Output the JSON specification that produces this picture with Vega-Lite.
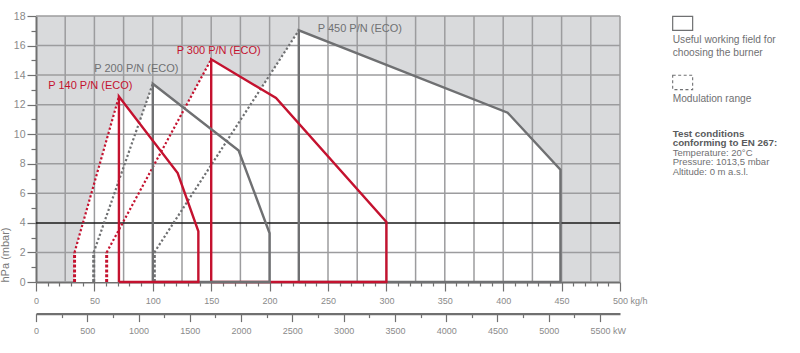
{
  "$schema": "https://vega.github.io/schema/vega-lite/v6.json",
  "autosize": "none",
  "width": 584,
  "height": 266,
  "padding": {"left": 36, "top": 16, "right": 180, "bottom": 71},
  "background": "white",
  "config": {
    "view": {"fill": "#d9dadc", "stroke": null},
    "font": "Liberation Sans",
    "text": {"font": "Liberation Sans"}
  },
  "datasets": {
    "fields": [
      {"b": "P 450", "x": 101.3, "y": 2},
      {"b": "P 450", "x": 225, "y": 17.03},
      {"b": "P 450", "x": 403.8, "y": 11.46},
      {"b": "P 450", "x": 449, "y": 7.6},
      {"b": "P 300", "x": 60.5, "y": 2},
      {"b": "P 300", "x": 150, "y": 15.07},
      {"b": "P 300", "x": 205.5, "y": 12.45},
      {"b": "P 300", "x": 300, "y": 4.06},
      {"b": "P 200", "x": 49.4, "y": 2},
      {"b": "P 200", "x": 100, "y": 13.42},
      {"b": "P 200", "x": 173.5, "y": 8.9},
      {"b": "P 200", "x": 200, "y": 3.3},
      {"b": "P 140", "x": 33, "y": 2},
      {"b": "P 140", "x": 71, "y": 12.55},
      {"b": "P 140", "x": 121.3, "y": 7.37},
      {"b": "P 140", "x": 139, "y": 3.43}
    ],
    "lines": [
      {"b": "P 450", "part": "vert", "o": 1, "x": 101.3, "y": 0},
      {"b": "P 450", "part": "vert", "o": 2, "x": 101.3, "y": 2},
      {"b": "P 450", "part": "diag", "o": 1, "x": 101.3, "y": 2},
      {"b": "P 450", "part": "diag", "o": 2, "x": 225, "y": 17.03},
      {"b": "P 450", "part": "field", "o": 1, "x": 225, "y": 0},
      {"b": "P 450", "part": "field", "o": 2, "x": 225, "y": 17.03},
      {"b": "P 450", "part": "field", "o": 3, "x": 403.8, "y": 11.46},
      {"b": "P 450", "part": "field", "o": 4, "x": 449, "y": 7.6},
      {"b": "P 450", "part": "field", "o": 5, "x": 449, "y": 0},
      {"b": "P 450", "part": "field", "o": 6, "x": 225, "y": 0},
      {"b": "P 300", "part": "vert", "o": 1, "x": 60.5, "y": 0},
      {"b": "P 300", "part": "vert", "o": 2, "x": 60.5, "y": 2},
      {"b": "P 300", "part": "diag", "o": 1, "x": 60.5, "y": 2},
      {"b": "P 300", "part": "diag", "o": 2, "x": 150, "y": 15.07},
      {"b": "P 300", "part": "field", "o": 1, "x": 150, "y": 0},
      {"b": "P 300", "part": "field", "o": 2, "x": 150, "y": 15.07},
      {"b": "P 300", "part": "field", "o": 3, "x": 205.5, "y": 12.45},
      {"b": "P 300", "part": "field", "o": 4, "x": 300, "y": 4.06},
      {"b": "P 300", "part": "field", "o": 5, "x": 300, "y": 0},
      {"b": "P 300", "part": "field", "o": 6, "x": 150, "y": 0},
      {"b": "P 200", "part": "vert", "o": 1, "x": 49.4, "y": 0},
      {"b": "P 200", "part": "vert", "o": 2, "x": 49.4, "y": 2},
      {"b": "P 200", "part": "diag", "o": 1, "x": 49.4, "y": 2},
      {"b": "P 200", "part": "diag", "o": 2, "x": 100, "y": 13.42},
      {"b": "P 200", "part": "field", "o": 1, "x": 100, "y": 0},
      {"b": "P 200", "part": "field", "o": 2, "x": 100, "y": 13.42},
      {"b": "P 200", "part": "field", "o": 3, "x": 173.5, "y": 8.9},
      {"b": "P 200", "part": "field", "o": 4, "x": 200, "y": 3.3},
      {"b": "P 200", "part": "field", "o": 5, "x": 200, "y": 0},
      {"b": "P 200", "part": "field", "o": 6, "x": 100, "y": 0},
      {"b": "P 140", "part": "vert", "o": 1, "x": 33, "y": 0},
      {"b": "P 140", "part": "vert", "o": 2, "x": 33, "y": 2},
      {"b": "P 140", "part": "diag", "o": 1, "x": 33, "y": 2},
      {"b": "P 140", "part": "diag", "o": 2, "x": 71, "y": 12.55},
      {"b": "P 140", "part": "field", "o": 1, "x": 71, "y": 0},
      {"b": "P 140", "part": "field", "o": 2, "x": 71, "y": 12.55},
      {"b": "P 140", "part": "field", "o": 3, "x": 121.3, "y": 7.37},
      {"b": "P 140", "part": "field", "o": 4, "x": 139, "y": 3.43},
      {"b": "P 140", "part": "field", "o": 5, "x": 139, "y": 0},
      {"b": "P 140", "part": "field", "o": 6, "x": 71, "y": 0}
    ],
    "labels": [
      {"b": "P 140", "t": "P 140 P/N (ECO)", "x": 10.5, "y": 13.24},
      {"b": "P 200", "t": "P 200 P/N (ECO)", "x": 49.9, "y": 14.39},
      {"b": "P 300", "t": "P 300 P/N (ECO)", "x": 120.4, "y": 15.63},
      {"b": "P 450", "t": "P 450 P/N (ECO)", "x": 241.2, "y": 17.14}
    ],
    "gx": [
      {"x": 25}, {"x": 50}, {"x": 75}, {"x": 100}, {"x": 125}, {"x": 150}, {"x": 175}, {"x": 200},
      {"x": 225}, {"x": 250}, {"x": 275}, {"x": 300}, {"x": 325}, {"x": 350}, {"x": 375}, {"x": 400},
      {"x": 425}, {"x": 450}, {"x": 475}, {"x": 500}
    ],
    "gy": [
      {"y": 2}, {"y": 6}, {"y": 8}, {"y": 10}, {"y": 12}, {"y": 14}, {"y": 16}, {"y": 18}
    ],
    "ref": [{"y": 4}],
    "legbox": [
      {"kind": "solid", "x": 545.1, "x2": 562.2, "y": 17.98, "y2": 17.03},
      {"kind": "dash", "x": 545.1, "x2": 562.2, "y": 13.99, "y2": 13.02}
    ],
    "legtext": [
      {"kind": "body", "t": "Useful working field for", "x": 545.1, "y": 16.35},
      {"kind": "body", "t": "choosing the burner", "x": 545.1, "y": 15.49},
      {"kind": "body", "t": "Modulation range", "x": 545.1, "y": 12.38},
      {"kind": "head", "t": "Test conditions", "x": 545.1, "y": 10.03},
      {"kind": "head", "t": "conforming to EN 267:", "x": 545.1, "y": 9.38},
      {"kind": "small", "t": "Temperature: 20°C", "x": 545.1, "y": 8.74},
      {"kind": "small", "t": "Pressure: 1013,5 mbar", "x": 545.1, "y": 8.1},
      {"kind": "small", "t": "Altitude: 0 m a.s.l.", "x": 545.1, "y": 7.45}
    ],
    "kw": [{"kw": 0}]
  },
  "resolve": {"scale": {"x": "independent", "y": "independent"}, "axis": {"x": "independent", "y": "independent"}},
  "layer": [
    {
      "data": {"name": "fields"},
      "mark": {"type": "area", "fill": "white", "opacity": 1},
      "encoding": {
        "x": {
          "field": "x", "type": "quantitative",
          "scale": {"domain": [0, 500], "nice": false, "zero": false},
          "axis": {
            "orient": "bottom", "title": null, "grid": false, "format": "d",
            "values": [0,10,20,30,40,50,60,70,80,90,100,110,120,130,140,150,160,170,180,190,200,210,220,230,240,250,260,270,280,290,300,310,320,330,340,350,360,370,380,390,400,410,420,430,440,450,460,470,480,490,500],
            "labelExpr": "datum.value % 50 === 0 ? (datum.value === 500 ? '500  kg/h' : datum.label) : ''",
            "labelAlign": {"condition": {"test": "datum.value === 500", "value": "left"}, "value": "center"},
            "labelOffset": {"condition": {"test": "datum.value === 500", "value": -7.5}, "value": 0},
            "tickSize": {"condition": {"test": "datum.value % 50 === 0", "value": 9}, "value": 4},
            "domainColor": "#707070", "domainWidth": 2.2,
            "tickColor": "#707070", "tickWidth": 1.2,
            "labelColor": "#8a8a8a", "labelFontSize": 9, "labelFont": "Liberation Sans",
            "labelPadding": 5, "labelFlush": false, "labelOverlap": false
          }
        },
        "y": {
          "field": "y", "type": "quantitative",
          "scale": {"domain": [0, 18], "nice": false, "zero": false},
          "axis": {
            "orient": "left",
            "title": "hPa (mbar)", "grid": false, "format": "d",
            "values": [0,1,2,3,4,5,6,7,8,9,10,11,12,13,14,15,16,17,18],
            "labelExpr": "datum.value % 2 === 0 ? datum.label : ''",
            "tickSize": {"condition": {"test": "datum.value % 2 === 0", "value": 9}, "value": 5},
            "domainColor": "#707070", "domainWidth": 2,
            "tickColor": "#707070", "tickWidth": 1.2,
            "labelColor": "#8a8a8a", "labelFontSize": 10.5, "labelFont": "Liberation Sans",
            "labelPadding": 2, "labelOverlap": false, "labelFlush": false,
            "titleFont": "Liberation Sans", "titleFontSize": 11, "titleFontWeight": "normal",
            "titleColor": "#7a7a7a", "titleAnchor": "start", "titlePadding": 3
          }
        },
        "y2": {"datum": 0},
        "detail": {"field": "b"}
      }
    },
    {
      "data": {"name": "gx"},
      "mark": {"type": "rule", "color": "#9c9c9e", "strokeWidth": 1.5},
      "encoding": {
        "x": {"field": "x", "type": "quantitative", "scale": {"domain": [0, 500], "nice": false, "zero": false}, "axis": null}
      }
    },
    {
      "data": {"name": "gy"},
      "mark": {"type": "rule", "color": "#9c9c9e", "strokeWidth": 1.5},
      "encoding": {
        "y": {"field": "y", "type": "quantitative", "scale": {"domain": [0, 18], "nice": false, "zero": false}, "axis": null}
      }
    },
    {
      "data": {"name": "ref"},
      "mark": {"type": "rule", "color": "#1a1a1a", "strokeWidth": 1.5},
      "encoding": {
        "y": {"field": "y", "type": "quantitative", "scale": {"domain": [0, 18], "nice": false, "zero": false}, "axis": null}
      }
    },
    {
      "data": {"name": "lines"},
      "transform": [{"filter": "datum.part === 'vert'"}],
      "mark": {"type": "line", "strokeWidth": 3, "strokeDash": [3, 1.8]},
      "encoding": {
        "x": {"field": "x", "type": "quantitative", "scale": {"domain": [0, 500], "nice": false, "zero": false}, "axis": null},
        "y": {"field": "y", "type": "quantitative", "scale": {"domain": [0, 18], "nice": false, "zero": false}, "axis": null},
        "order": {"field": "o"},
        "color": {"field": "b", "type": "nominal", "legend": null,
          "scale": {"domain": ["P 140", "P 200", "P 300", "P 450"], "range": ["#c4122f", "#6f7072", "#c4122f", "#6f7072"]}}
      }
    },
    {
      "data": {"name": "lines"},
      "transform": [{"filter": "datum.part === 'diag'"}],
      "mark": {"type": "line", "strokeWidth": 2.2, "strokeDash": [2.2, 2.2]},
      "encoding": {
        "x": {"field": "x", "type": "quantitative", "scale": {"domain": [0, 500], "nice": false, "zero": false}, "axis": null},
        "y": {"field": "y", "type": "quantitative", "scale": {"domain": [0, 18], "nice": false, "zero": false}, "axis": null},
        "order": {"field": "o"},
        "color": {"field": "b", "type": "nominal", "legend": null}
      }
    },
    {
      "data": {"name": "lines"},
      "transform": [{"filter": "datum.part === 'field'"}],
      "mark": {"type": "line", "strokeWidth": 2.4},
      "encoding": {
        "x": {"field": "x", "type": "quantitative", "scale": {"domain": [0, 500], "nice": false, "zero": false}, "axis": null},
        "y": {"field": "y", "type": "quantitative", "scale": {"domain": [0, 18], "nice": false, "zero": false}, "axis": null},
        "order": {"field": "o"},
        "color": {"field": "b", "type": "nominal", "legend": null}
      }
    },
    {
      "data": {"name": "labels"},
      "mark": {"type": "text", "align": "left", "baseline": "middle", "fontSize": 11, "font": "Liberation Sans"},
      "encoding": {
        "x": {"field": "x", "type": "quantitative", "scale": {"domain": [0, 500], "nice": false, "zero": false}, "axis": null},
        "y": {"field": "y", "type": "quantitative", "scale": {"domain": [0, 18], "nice": false, "zero": false}, "axis": null},
        "text": {"field": "t"},
        "color": {"field": "b", "type": "nominal", "legend": null}
      }
    },
    {
      "data": {"name": "legbox"},
      "transform": [{"filter": "datum.kind === 'solid'"}],
      "mark": {"type": "rect", "fill": null, "fillOpacity": 0, "stroke": "#6f7072", "strokeWidth": 1.2},
      "encoding": {
        "x": {"field": "x", "type": "quantitative", "scale": {"domain": [0, 500], "nice": false, "zero": false}, "axis": null},
        "x2": {"field": "x2"},
        "y": {"field": "y", "type": "quantitative", "scale": {"domain": [0, 18], "nice": false, "zero": false}, "axis": null},
        "y2": {"field": "y2"}
      }
    },
    {
      "data": {"name": "legbox"},
      "transform": [{"filter": "datum.kind === 'dash'"}],
      "mark": {"type": "rect", "fill": null, "fillOpacity": 0, "stroke": "#6f7072", "strokeWidth": 1.1, "strokeDash": [3, 2.5]},
      "encoding": {
        "x": {"field": "x", "type": "quantitative", "scale": {"domain": [0, 500], "nice": false, "zero": false}, "axis": null},
        "x2": {"field": "x2"},
        "y": {"field": "y", "type": "quantitative", "scale": {"domain": [0, 18], "nice": false, "zero": false}, "axis": null},
        "y2": {"field": "y2"}
      }
    },
    {
      "data": {"name": "legtext"},
      "transform": [{"filter": "datum.kind === 'body'"}],
      "mark": {"type": "text", "align": "left", "baseline": "middle", "fontSize": 10.2, "font": "Liberation Sans", "color": "#707072"},
      "encoding": {
        "x": {"field": "x", "type": "quantitative", "scale": {"domain": [0, 500], "nice": false, "zero": false}, "axis": null},
        "y": {"field": "y", "type": "quantitative", "scale": {"domain": [0, 18], "nice": false, "zero": false}, "axis": null},
        "text": {"field": "t"}
      }
    },
    {
      "data": {"name": "legtext"},
      "transform": [{"filter": "datum.kind === 'small'"}],
      "mark": {"type": "text", "align": "left", "baseline": "middle", "fontSize": 9.5, "font": "Liberation Sans", "color": "#707072"},
      "encoding": {
        "x": {"field": "x", "type": "quantitative", "scale": {"domain": [0, 500], "nice": false, "zero": false}, "axis": null},
        "y": {"field": "y", "type": "quantitative", "scale": {"domain": [0, 18], "nice": false, "zero": false}, "axis": null},
        "text": {"field": "t"}
      }
    },
    {
      "data": {"name": "legtext"},
      "transform": [{"filter": "datum.kind === 'head'"}],
      "mark": {"type": "text", "align": "left", "baseline": "middle", "fontSize": 9.8, "font": "Liberation Sans", "fontWeight": "bold", "color": "#5a5b5d"},
      "encoding": {
        "x": {"field": "x", "type": "quantitative", "scale": {"domain": [0, 500], "nice": false, "zero": false}, "axis": null},
        "y": {"field": "y", "type": "quantitative", "scale": {"domain": [0, 18], "nice": false, "zero": false}, "axis": null},
        "text": {"field": "t"}
      }
    },
    {
      "data": {"name": "kw"},
      "mark": {"type": "rule", "strokeOpacity": 0},
      "encoding": {
        "x": {
          "field": "kw", "type": "quantitative",
          "scale": {"domain": [0, 5695], "nice": false, "zero": false},
          "axis": {
            "orient": "bottom", "offset": 31.6, "title": null, "grid": false, "format": "d",
            "values": [0,250,500,750,1000,1250,1500,1750,2000,2250,2500,2750,3000,3250,3500,3750,4000,4250,4500,4750,5000,5250,5500],
            "labelExpr": "datum.value % 500 === 0 ? (datum.value === 5500 ? '5500   kW' : datum.label) : ''",
            "labelAlign": {"condition": {"test": "datum.value === 5500", "value": "left"}, "value": "center"},
            "labelOffset": {"condition": {"test": "datum.value === 5500", "value": -10}, "value": 0},
            "tickSize": {"condition": {"test": "datum.value % 500 === 0", "value": 8}, "value": 4},
            "domainColor": "#707070", "domainWidth": 2.2,
            "tickColor": "#707070", "tickWidth": 1.2,
            "labelColor": "#8a8a8a", "labelFontSize": 9, "labelFont": "Liberation Sans",
            "labelPadding": 5, "labelFlush": false, "labelOverlap": false
          }
        }
      }
    }
  ]
}
